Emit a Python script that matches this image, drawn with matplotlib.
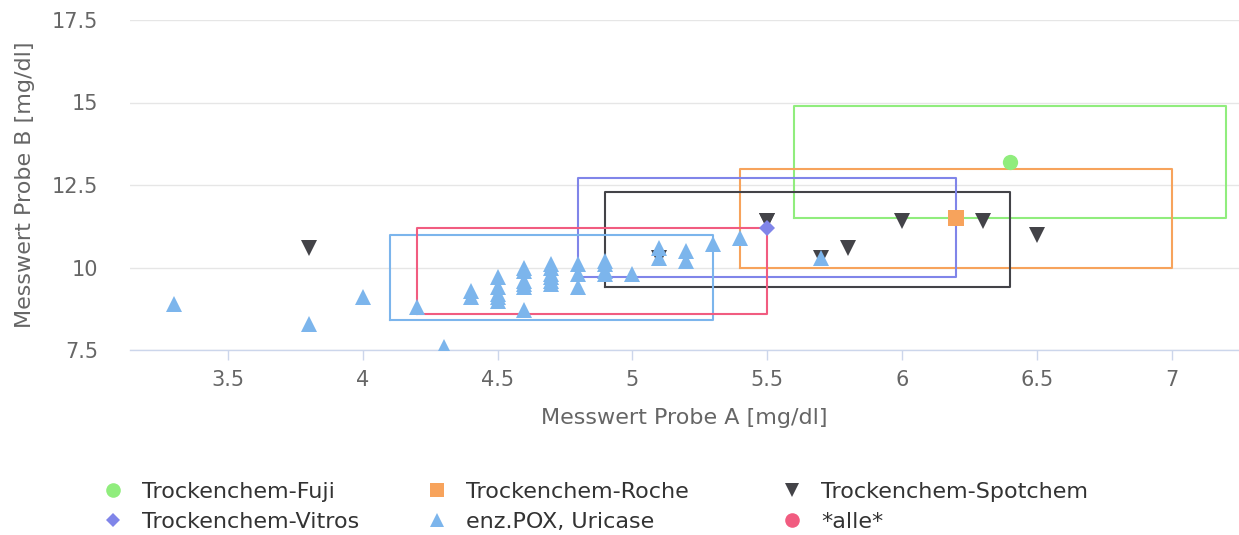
import matplotlib
matplotlib.use("Agg")
import matplotlib.pyplot as plt
from matplotlib.lines import Line2D

plt.rcParams['font.family'] = ['DejaVu Sans']

# series names and colours (Highcharts classic palette)
names = ["Trockenchem-Fuji", "Trockenchem-Roche", "Trockenchem-Spotchem",
         "Trockenchem-Vitros", "enz.POX, Uricase", "*alle*"]
colors = ["#90ed7d", "#f7a35c", "#434348", "#8085e9", "#7cb5ec", "#f15c80"]
markers = ["o", "s", "v", "D", "^", "o"]

# point data
fuji_x = [6.4]
fuji_y = [13.2]
roche_x = [6.2]
roche_y = [11.5]
spot_x = [3.8, 5.1, 5.5, 5.5, 5.7, 5.8, 6.0, 6.3, 6.5]
spot_y = [10.6, 10.3, 11.4, 11.4, 10.3, 10.6, 11.4, 11.4, 11.0]
vitros_x = [5.5]
vitros_y = [11.2]
pox_x = [3.3, 3.8, 4.0, 4.2, 4.3,
         4.4, 4.4,
         4.5, 4.5, 4.5, 4.5, 4.5,
         4.6, 4.6, 4.6, 4.6, 4.6, 4.6,
         4.7, 4.7, 4.7, 4.7, 4.7, 4.7,
         4.8, 4.8, 4.8,
         4.9, 4.9, 4.9, 4.9,
         5.0, 5.1, 5.1, 5.2, 5.2, 5.3, 5.4, 5.7]
pox_y = [8.9, 8.3, 9.1, 8.8, 7.6,
         9.3, 9.1,
         9.7, 9.4, 9.2, 9.1, 9.0,
         10.0, 9.9, 9.6, 9.5, 9.4, 8.7,
         10.1, 10.0, 9.8, 9.7, 9.6, 9.5,
         10.1, 9.8, 9.4,
         10.2, 10.1, 9.9, 9.8,
         9.8, 10.6, 10.3, 10.5, 10.2, 10.7, 10.9, 10.3]

# range boxes per series: x min, x max, y min, y max
box_x0 = [5.6, 5.4, 4.9, 4.8, 4.1, 4.2]
box_x1 = [7.2, 7.0, 6.4, 6.2, 5.3, 5.5]
box_y0 = [11.5, 10.0, 9.4, 9.7, 8.4, 8.6]
box_y1 = [14.9, 13.0, 12.3, 12.7, 11.0, 11.2]

xticks = [3.5, 4, 4.5, 5, 5.5, 6, 6.5, 7]
xlabels = ["3.5", "4", "4.5", "5", "5.5", "6", "6.5", "7"]
yticks = [7.5, 10, 12.5, 15, 17.5]
ylabels = ["7.5", "10", "12.5", "15", "17.5"]

W, H = 1239, 535
fig = plt.figure(figsize=(W / 100, H / 100), dpi=100)
ax = fig.add_axes([130 / W, 1 - 350 / H, (W - 130) / W, 330 / H])

# boxes
for i in range(len(names)):
    bx = [box_x0[i], box_x1[i], box_x1[i], box_x0[i], box_x0[i]]
    by = [box_y0[i], box_y0[i], box_y1[i], box_y1[i], box_y0[i]]
    ax.plot(bx, by, color=colors[i], lw=1.5, zorder=2 + i * 0.1)

# points
pts = [(fuji_x, fuji_y, 11), (roche_x, roche_y, 11.5), (spot_x, spot_y, 11.5),
       (vitros_x, vitros_y, 8.2), (pox_x, pox_y, 11)]
for i, (px, py, ms) in enumerate(pts):
    ax.plot(px, py, ls="none", marker=markers[i], ms=ms, color=colors[i],
            mew=0, zorder=5 + i)

ax.set_xlim(3.137, 7.25)
ax.set_ylim(7.5, 17.5)
ax.set_xticks(xticks)
ax.set_xticklabels(xlabels)
ax.set_yticks(yticks)
ax.set_yticklabels(ylabels)
ax.grid(axis="y", color="#e6e6e6", lw=1)
ax.set_axisbelow(True)
for s in ["top", "right", "left"]:
    ax.spines[s].set_visible(False)
ax.spines["bottom"].set_color("#ccd6eb")
ax.spines["bottom"].set_linewidth(1)
ax.tick_params(axis="x", colors="#ccd6eb", labelcolor="#666666", length=7.5,
               width=1, direction="out", labelsize=15, pad=7)
ax.tick_params(axis="y", length=0, labelcolor="#666666", labelsize=15, pad=23)

ax.set_xlabel("Messwert Probe A [mg/dl]", color="#666666", fontsize=16, labelpad=13)
ax.set_ylabel("Messwert Probe B [mg/dl]", color="#666666", fontsize=16, labelpad=12)

# legend: three columns, two rows each
handles = [Line2D([], [], ls="none", marker=markers[i], color=colors[i], mew=0,
                  ms=10.5 if markers[i] != "D" else 7.5) for i in range(len(names))]
col_x = [113, 437, 792]
fs = 16
for c in range(3):
    idx = [c, c + 3]
    fig.legend([handles[j] for j in idx], [names[j] for j in idx],
               loc="center left",
               bbox_to_anchor=((col_x[c] - fs * 100 / 72 * 0.5) / W, 1 - 506.5 / H),
               frameon=False, fontsize=fs, handlelength=1.0, handletextpad=0.8,
               labelspacing=0.45, borderpad=0, borderaxespad=0,
               labelcolor="#333333")

fig.savefig("out.png", dpi=100)
